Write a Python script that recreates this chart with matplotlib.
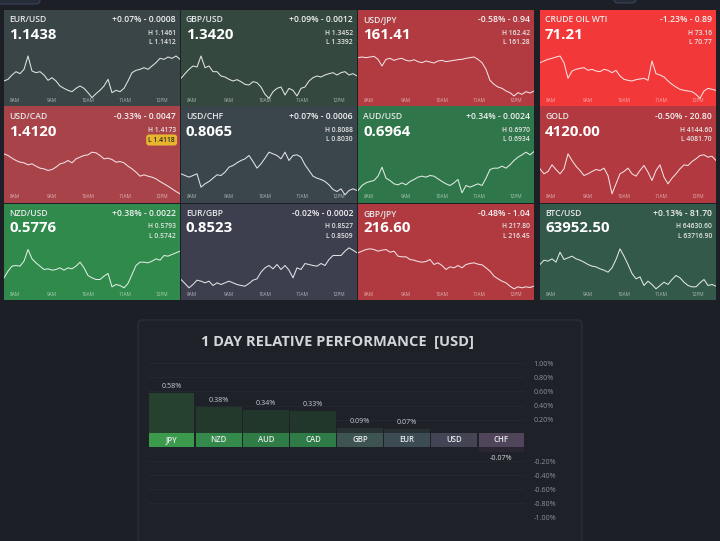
import numpy as np
import matplotlib
matplotlib.use("Agg")
import matplotlib.pyplot as plt
from matplotlib.patches import FancyBboxPatch

plt.rcParams['font.family'] = ['Open Sans', 'DejaVu Sans']

W, H = 720, 541
BG = '#1c1f26'

# ---------------- tile data ----------------
symbols = ['EUR/USD', 'GBP/USD', 'USD/JPY', 'CRUDE OIL WTI',
           'USD/CAD', 'USD/CHF', 'AUD/USD', 'GOLD',
           'NZD/USD', 'EUR/GBP', 'GBP/JPY', 'BTC/USD']
prices = ['1.1438', '1.3420', '161.41', '71.21',
          '1.4120', '0.8065', '0.6964', '4120.00',
          '0.5776', '0.8523', '216.60', '63952.50']
changes = ['+0.07% - 0.0008', '+0.09% - 0.0012', '-0.58% - 0.94', '-1.23% - 0.89',
           '-0.33% - 0.0047', '+0.07% - 0.0006', '+0.34% - 0.0024', '-0.50% - 20.80',
           '+0.38% - 0.0022', '-0.02% - 0.0002', '-0.48% - 1.04', '+0.13% - 81.70']
highs = ['1.1461', '1.3452', '162.42', '73.16',
         '1.4173', '0.8088', '0.6970', '4144.60',
         '0.5793', '0.8527', '217.80', '64630.60']
lows = ['1.1412', '1.3392', '161.28', '70.77',
        '1.4118', '0.8030', '0.6934', '4081.70',
        '0.5742', '0.8509', '216.45', '63716.90']
tile_colors = ['#3a4548', '#35483f', '#b13b41', '#f23838',
               '#a9434a', '#3b464c', '#2f774a', '#b2393f',
               '#2f8a4b', '#3d3f4f', '#b13a40', '#33594b']
hour_labels = ['8AM', '9AM', '10AM', '11AM', '12PM']
hour_ticks = [8, 9, 10, 11, 12]

# intraday traces (relative level index, read from the sparklines)
eurusd = [75, 80, 93, 103, 97, 110, 150, 105, 100, 103, 93, 77, 85, 75, 60, 53, 47, 43, 53, 60, 53, 40, 25,
          37, 47, 60, 80, 40, 47, 43, 53, 75, 100, 107, 110, 115, 110, 120, 130, 143, 140, 147, 143, 150, 140]
gbpusd = [83, 97, 110, 120, 117, 150, 115, 120, 103, 103, 90, 87, 80, 75, 79, 73, 65, 63, 73, 70, 57, 35, 23,
          43, 53, 57, 33, 53, 47, 30, 53, 57, 75, 85, 90, 87, 93, 97, 100, 93, 100, 103, 93, 97, 90]
usdjpy = [145, 147, 145, 147, 149, 140, 120, 140, 143, 137, 141, 143, 137, 135, 139, 133, 130, 135, 132, 129, 135,
          137, 133, 135, 137, 139, 140, 143, 145, 147, 140, 130, 110, 77, 65, 57, 53, 45, 40, 30, 40, 35, 43, 39, 45]
crude = [130, 135, 140, 143, 147, 150, 130, 83, 105, 110, 113, 115, 107, 110, 105, 103, 110, 107, 100, 107, 90,
         80, 77, 75, 79, 81, 83, 77, 135, 97, 93, 87, 75, 65, 57, 50, 47, 45, 43, 35, 23, 45, 53, 50, 47]
usdcad = [146, 141, 133, 126, 121, 119, 113, 116, 109, 103, 101, 96, 99, 106, 116, 119, 126, 119, 131, 136, 141,
          143, 151, 149, 141, 131, 133, 129, 121, 123, 119, 109, 101, 91, 79, 83, 79, 76, 71, 63, 56, 49, 41, 33, 26]
usdchf = [86, 81, 76, 81, 86, 46, 56, 63, 73, 83, 81, 91, 106, 111, 119, 126, 131, 141, 123, 103, 116, 133, 151,
          146, 141, 131, 151, 126, 141, 143, 136, 113, 96, 79, 73, 69, 63, 53, 39, 33, 41, 23, 36, 41, 36]
audusd = [36, 51, 59, 63, 66, 79, 106, 73, 66, 56, 53, 59, 53, 63, 69, 76, 79, 76, 81, 79, 71, 63, 56, 51, 59,
          69, 29, 51, 46, 51, 56, 51, 73, 99, 103, 103, 109, 103, 113, 126, 136, 143, 151, 143, 153]
gold = [101, 86, 93, 113, 99, 86, 101, 146, 126, 109, 96, 81, 86, 93, 99, 96, 103, 81, 26, 56, 86, 93, 103, 86,
        79, 96, 111, 91, 66, 96, 113, 76, 56, 73, 86, 101, 113, 111, 123, 131, 141, 143, 136, 139, 126]
nzdusd = [65, 85, 100, 102, 100, 115, 150, 122, 110, 100, 90, 92, 88, 90, 95, 88, 95, 92, 100, 112, 95, 72, 65,
          60, 60, 70, 78, 38, 45, 42, 35, 48, 75, 102, 112, 112, 110, 115, 122, 118, 132, 130, 135, 140, 145]
eurgbp = [60, 48, 35, 45, 58, 55, 50, 55, 42, 50, 45, 50, 55, 50, 45, 42, 40, 48, 58, 62, 82, 95, 102, 92, 105,
          90, 102, 88, 65, 95, 90, 108, 105, 102, 100, 108, 102, 120, 132, 132, 132, 145, 155, 148, 140]
gbpjpy = [140, 145, 150, 152, 150, 145, 148, 150, 142, 145, 130, 128, 128, 120, 118, 114, 112, 114, 120, 105,
          110, 102, 90, 98, 95, 102, 95, 105, 108, 110, 106, 104, 95, 85, 70, 62, 55, 50, 40, 32, 38, 35, 38, 36, 40]
btcusd = [105, 118, 115, 122, 112, 142, 120, 125, 130, 122, 118, 112, 105, 100, 98, 92, 88, 82, 95, 120, 152,
          130, 105, 78, 62, 68, 42, 55, 45, 32, 42, 52, 45, 60, 72, 65, 52, 42, 38, 38, 50, 60, 42, 45, 40]
traces = [eurusd, gbpusd, usdjpy, crude, usdcad, usdchf, audusd, gold, nzdusd, eurgbp, gbpjpy, btcusd]

t_start, t_end = 7.70, 12.49   # session window shown in each tile (hours)

# ---------------- relative performance data ----------------
currencies = ['JPY', 'NZD', 'AUD', 'CAD', 'GBP', 'EUR', 'USD', 'CHF']
performance = [0.58, 0.38, 0.34, 0.33, 0.09, 0.07, 0.00, -0.07]
strip_colors = ['#3c9a4c', '#348a4a', '#2f7c46', '#2f7b47', '#3e5452', '#3d4b52', '#434554', '#50455a']
bar_colors = ['#27412f', '#23392c', '#22372c', '#22372c', '#283234', '#272f33', '#272933', '#2a2631']
pos_ticks = [0.2, 0.4, 0.6, 0.8, 1.0]
neg_ticks = [-0.2, -0.4, -0.6, -0.8, -1.0]

# ---------------- figure ----------------
fig = plt.figure(figsize=(W / 100, H / 100), dpi=100)
fig.patch.set_facecolor(BG)


def px_axes(x, y, w, h):
    return fig.add_axes([x / W, 1 - (y + h) / H, w / W, h / H])


bg = px_axes(0, 0, W, H)
bg.set_xlim(0, W)
bg.set_ylim(H, 0)
bg.axis('off')
bg.add_patch(FancyBboxPatch((-6, -10), 46, 14, boxstyle='round,pad=0,rounding_size=4',
                            fc='#252b37', ec='#3a4356', lw=0.8))
bg.add_patch(FancyBboxPatch((614, -10), 22, 13, boxstyle='round,pad=0,rounding_size=4',
                            fc='#252b37', ec='#3a4356', lw=0.8))
bg.add_patch(FancyBboxPatch((138, 320), 444, 240, boxstyle='round,pad=0,rounding_size=5',
                            fc='#1e2128', ec='#2b2f38', lw=0.9))

col_x = [4, 181, 358, 540]
row_y = [10, 106.5, 203.5]
tile_w, tile_h = 176, 96
times = np.linspace(t_start, t_end, len(eurusd))

tile_boxes = []
for i, vals in enumerate(traces):
    tx = col_x[i % 4]
    ty = row_y[i // 4]
    tile_boxes.append((tx, ty))
    ax = px_axes(tx, ty, tile_w, tile_h)
    ax.set_facecolor(tile_colors[i])
    ax.plot(times, vals, color='white', lw=0.75, alpha=0.85)
    ax.set_xlim(t_start, t_end)
    ax.set_ylim(0, 288)
    for s in ax.spines.values():
        s.set_visible(False)
    ax.set_xticks([])
    ax.set_yticks([])
    for hv, hl in zip(hour_ticks, hour_labels):
        ax.text(hv, 5.5 / tile_h, hl, transform=ax.get_xaxis_transform(), ha='center', va='center',
                fontsize=3.4, color='white', alpha=0.6)

ov = px_axes(0, 0, W, H)
ov.set_facecolor('none')
ov.set_xlim(0, W)
ov.set_ylim(H, 0)
ov.axis('off')

for i, (tx, ty) in enumerate(tile_boxes):
    right = tx + tile_w - 4
    ov.text(tx + 5, ty + 10, symbols[i], ha='left', va='center', fontsize=6.2,
            fontweight='semibold', color='#e6e8ea')
    ov.text(right, ty + 10, changes[i], ha='right', va='center', fontsize=6.2,
            fontweight='semibold', color='#f2f2f2')
    ov.text(tx + 5, ty + 25, prices[i], ha='left', va='center', fontsize=10.8,
            fontweight='bold', color='white')
    ov.text(right, ty + 23.5, 'H ' + highs[i], ha='right', va='center', fontsize=4.9,
            fontweight='semibold', color='#e4e4e4')
    if symbols[i] == 'USD/CAD':
        ov.text(right - 1, ty + 33.5, 'L ' + lows[i], ha='right', va='center', fontsize=4.9,
                fontweight='semibold', color='#2a2a2a',
                bbox=dict(boxstyle='round,pad=0.3,rounding_size=0.4', fc='#e8b52e', ec='none'))
    else:
        ov.text(right, ty + 33, 'L ' + lows[i], ha='right', va='center', fontsize=4.9,
                fontweight='semibold', color='#e4e4e4')

# ---------------- performance chart ----------------
ov.text(337.5, 342, '1 DAY RELATIVE PERFORMANCE  [USD]', ha='center', va='center',
        fontsize=10.5, fontweight='bold', color='#d3d6da')

x = np.arange(len(currencies))
px0, pw = 148, 377


def style_axes(a):
    a.set_facecolor('none')
    for s in a.spines.values():
        s.set_visible(False)
    a.set_xlim(-0.5, len(currencies) - 0.5)
    a.set_xticks([])


ax_pos = px_axes(px0, 363, pw, 71)
style_axes(ax_pos)
pos_vals = [max(v, 0) for v in performance]
ax_pos.bar(x, pos_vals, width=0.97, color=bar_colors, zorder=2)
ax_pos.set_ylim(0, 1.0)
ax_pos.set_yticks(pos_ticks)
ax_pos.set_yticklabels([f'{v:.2f}%' for v in pos_ticks])
ax_pos.yaxis.tick_right()
ax_pos.tick_params(axis='y', length=0, pad=6, labelsize=5.2, labelcolor='#8b9099')
ax_pos.grid(axis='y', color='#252930', lw=0.6, zorder=0)
for xi, v in zip(x, performance):
    if v > 0:
        ax_pos.text(xi, v + 0.09, f'{v:.2f}%', ha='center', va='center', fontsize=5.2,
                    color='#c9cdd2', zorder=3)

ax_neg = px_axes(px0, 447, pw, 70)
style_axes(ax_neg)
neg_vals = [min(v, 0) for v in performance]
ax_neg.bar(x, neg_vals, width=0.97, color=bar_colors, zorder=2)
ax_neg.set_ylim(-1.0, 0)
ax_neg.set_yticks(neg_ticks)
ax_neg.set_yticklabels([f'{v:.2f}%' for v in neg_ticks])
ax_neg.yaxis.tick_right()
ax_neg.tick_params(axis='y', length=0, pad=6, labelsize=5.2, labelcolor='#8b9099')
ax_neg.grid(axis='y', color='#252930', lw=0.6, zorder=0)
for xi, v in zip(x, performance):
    if v < 0:
        ax_neg.text(xi, v - 0.09, f'{v:.2f}%', ha='center', va='center', fontsize=5.2,
                    color='#d5d8dc', zorder=3)

ax_strip = px_axes(px0, 433, pw, 14)
style_axes(ax_strip)
ax_strip.bar(x, [1] * len(currencies), width=0.97, color=strip_colors)
ax_strip.set_ylim(0, 1)
ax_strip.set_yticks([])
for xi, c in zip(x, currencies):
    ax_strip.text(xi, 0.5, c, ha='center', va='center', fontsize=5.6,
                  fontweight='semibold', color='#e8eaec')

fig.savefig('out.png', dpi=100, facecolor=BG)
